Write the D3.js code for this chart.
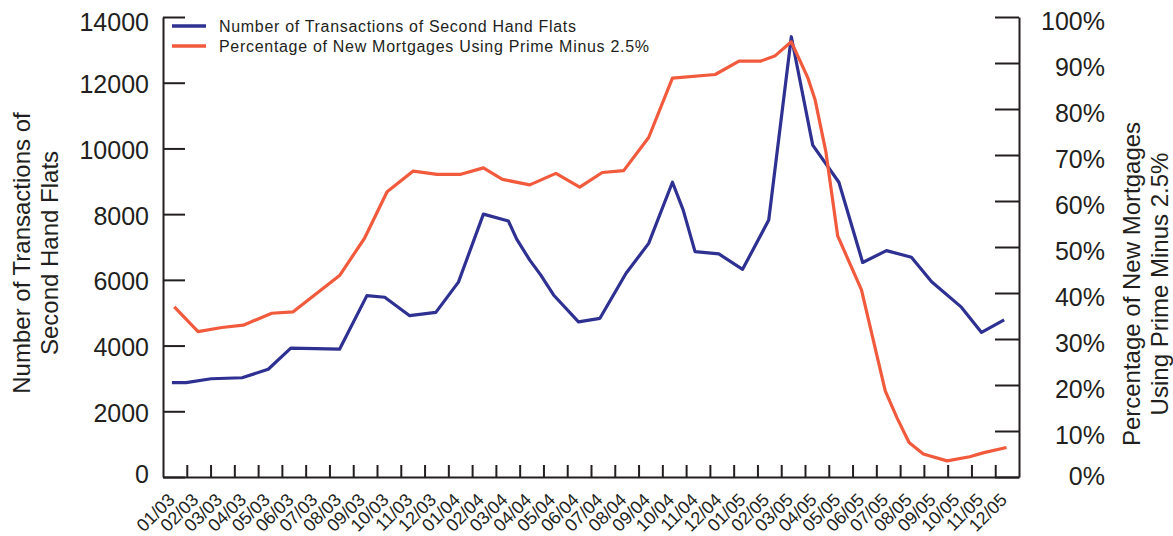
<!DOCTYPE html>
<html>
<head>
<meta charset="utf-8">
<script src="https://cdn.jsdelivr.net/npm/d3@7"></script>
<style>
  body { margin: 0; background: #fff; }
  svg { font-family: "Liberation Sans", Arial, Helvetica, sans-serif; }
  .axis path, .axis line { stroke: #231f20; stroke-width: 2; }
  .axis text { fill: #231f20; }
</style>
</head>
<body>
<svg id="chart" width="1173" height="536"></svg>
<script>
// month labels along the x axis
let months = ["01/03","02/03","03/03","04/03","05/03","06/03","07/03","08/03","09/03","10/03","11/03","12/03",
              "01/04","02/04","03/04","04/04","05/04","06/04","07/04","08/04","09/04","10/04","11/04","12/04",
              "01/05","02/05","03/05","04/05","05/05","06/05","07/05","08/05","09/05","10/05","11/05","12/05"];

// transactions of second hand flats (month index from 01/03, value)
let txMonth = [0, 0.6, 1.65, 2.95, 4.05, 5, 7.05, 8.2, 8.95, 10, 11.1, 12.05, 13.1, 14.15, 14.5, 15.05, 15.5, 16.05, 17.1, 18,
               19.1, 20.05, 21.05, 21.5, 22, 23, 24, 25.1, 26.05, 26.95, 28.05, 29.05, 30.05, 31.1, 31.95, 33.2, 34.05, 35];
let txValue = [2870, 2870, 2990, 3020, 3280, 3920, 3890, 5520, 5470, 4910, 5010, 5930, 8000, 7790, 7240, 6600, 6160, 5540, 4720, 4830,
               6200, 7110, 8970, 8130, 6860, 6790, 6320, 7820, 13400, 10100, 8970, 6530, 6890, 6690, 5940, 5170, 4400, 4780];

// percentage of new mortgages using prime minus 2.5%
let mtgMonth = [0.1, 1.1, 2.1, 3, 4.2, 5.1, 7.05, 8.1, 9.05, 10.15, 11.15, 12.15, 13.1, 13.9, 15.05, 16.15, 17.15, 18.1, 19, 20.05,
                21.05, 22.85, 23.85, 24.75, 25.35, 26.05, 26.75, 27.05, 27.5, 28, 29, 30, 30.5, 31, 31.6, 32.6, 33.55, 34.15, 35.1];
let mtgValue = [37.0, 31.6, 32.5, 33.0, 35.6, 35.9, 43.8, 51.9, 62.0, 66.5, 65.8, 65.8, 67.2, 64.7, 63.5, 66.0, 63.0, 66.2, 66.6, 73.8,
                86.7, 87.5, 90.4, 90.4, 91.5, 94.6, 86.7, 82.0, 70.8, 52.4, 40.7, 18.7, 12.8, 7.5, 5.0, 3.5, 4.4, 5.3, 6.4];

let leftTicks = [0, 2000, 4000, 6000, 8000, 10000, 12000, 14000];
let rightTicks = [0, 10, 20, 30, 40, 50, 60, 70, 80, 90, 100];

let seriesNames = ["Number of Transactions of Second Hand Flats", "Percentage of New Mortgages Using Prime Minus 2.5%"];
let colors = ["#2e3192", "#f15a3c"];

let svg = d3.select("#chart"),
    plotLeft = 163, plotRight = 1019, plotTop = 17, plotBottom = 477;

let xEdge = d3.scaleLinear().domain([0, months.length]).range([plotLeft, plotRight]);
let xBand = d3.scaleBand().domain(months).range([plotLeft, plotRight]);
let yL = d3.scaleLinear().domain([0, 14000]).range([plotBottom, plotTop]);
let yR = d3.scaleLinear().domain([0, 100]).range([plotBottom, plotTop]);

// x axis: inner ticks on the band edges
svg.append("g")
    .attr("class", "axis")
    .attr("transform", "translate(0," + plotBottom + ")")
    .call(d3.axisBottom(xEdge).tickValues(d3.range(1, months.length)).tickSize(-12).tickSizeOuter(0).tickFormat(""));

// x labels, rotated
svg.append("g")
    .attr("class", "axis")
    .attr("transform", "translate(0," + plotBottom + ")")
    .call(d3.axisBottom(xBand).tickSize(0).tickPadding(0))
    .call(g => g.select(".domain").remove())
    .selectAll("text")
      .attr("font-size", 18)
      .attr("text-anchor", "end")
      .attr("dy", null)
      .attr("y", 0)
      .attr("transform", "translate(1,24) rotate(-45)");

svg.append("g")
    .attr("class", "axis")
    .attr("transform", "translate(" + plotLeft + ",0)")
    .call(d3.axisLeft(yL).tickValues(leftTicks).tickSize(-22).tickSizeOuter(0).tickPadding(14).tickFormat(d3.format("d")))
    .selectAll("text")
      .attr("font-size", 25)
      .attr("dy", (d, i) => d == 14000 ? "0.52em" : d == 0 ? "0.2em" : "0.4em");

svg.append("g")
    .attr("class", "axis")
    .attr("transform", "translate(" + plotRight + ",0)")
    .call(d3.axisRight(yR).tickValues(rightTicks).tickSize(-24).tickSizeOuter(0).tickFormat(d => d + "%"))
    .selectAll("text")
      .attr("font-size", 25)
      .attr("text-anchor", "end")
      .attr("x", 86)
      .attr("dy", d => d == 0 ? "0.28em" : "0.5em");

// axis titles
let lt = svg.append("text")
    .attr("transform", "translate(30,253) rotate(-90)")
    .attr("text-anchor", "middle")
    .attr("font-size", 24)
    .attr("fill", "#231f20");
lt.append("tspan").attr("x", 0).attr("dy", 0).text("Number of Transactions of");
lt.append("tspan").attr("x", 0).attr("dy", 28).text("Second Hand Flats");

let rt = svg.append("text")
    .attr("transform", "translate(1140,284) rotate(-90)")
    .attr("text-anchor", "middle")
    .attr("font-size", 24)
    .attr("fill", "#231f20");
rt.append("tspan").attr("x", 0).attr("dy", 0).text("Percentage of New Mortgages");
rt.append("tspan").attr("x", 0).attr("dy", 28).text("Using Prime Minus 2.5%");

// lines (orange sits on top of blue where they cross)
let lineL = d3.line().x(d => xEdge(d[0] + 0.375)).y(d => yL(d[1]));
let lineR = d3.line().x(d => xEdge(d[0] + 0.375)).y(d => yR(d[1]));

svg.append("path")
    .datum(d3.zip(txMonth, txValue))
    .attr("fill", "none")
    .attr("stroke", colors[0])
    .attr("stroke-width", 3.2)
    .attr("stroke-linejoin", "round")
    .attr("d", lineL);

svg.append("path")
    .datum(d3.zip(mtgMonth, mtgValue))
    .attr("fill", "none")
    .attr("stroke", colors[1])
    .attr("stroke-width", 3.2)
    .attr("stroke-linejoin", "round")
    .attr("d", lineR);

// legend
let legend = svg.append("g")
    .selectAll("g")
    .data(seriesNames)
    .enter().append("g")
      .attr("transform", (d, i) => "translate(172," + (26 + i * 20) + ")");

legend.append("line")
    .attr("x1", 0).attr("x2", 34)
    .attr("stroke", (d, i) => colors[i])
    .attr("stroke-width", 3.5);

legend.append("text")
    .attr("x", 47)
    .attr("dy", "0.35em")
    .attr("font-size", 16)
    .attr("fill", "#231f20")
    .attr("textLength", (d, i) => i == 0 ? 357 : 430)
    .text(d => d);
</script>
</body>
</html>
